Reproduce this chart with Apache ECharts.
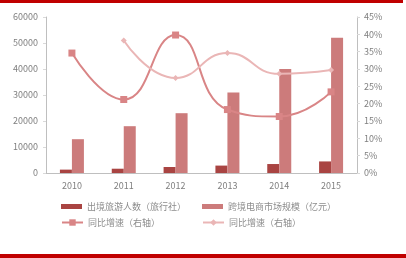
<!DOCTYPE html>
<html><head><meta charset="utf-8">
<script src="https://cdn.jsdelivr.net/npm/echarts@6/dist/echarts.min.js"></script>
<style>html,body{margin:0;padding:0;background:#fff}#c{width:406px;height:258px;position:relative}
.bar{position:absolute;left:0;background:#c00000}</style>
</head><body>
<div id="c"></div>
<div class="bar" style="top:0;width:403px;height:3px"></div>
<div class="bar" style="top:254px;width:406px;height:4px"></div>
<script>
const categories = ['2010','2011','2012','2013','2014','2015'];
const tourists = [1300, 1650, 2300, 2850, 3450, 4450];
const ecommerce = [13000, 18000, 23000, 31000, 40000, 52000];
const growthA = [34.6, 21.2, 39.8, 18.3, 16.3, 23.4];
const growthB = [null, 38.2, 27.4, 34.6, 28.6, 29.7];
const names = ['出境旅游人数（旅行社）','跨境电商市场规模（亿元）','同比增速（右轴）','同比增速（右轴） '];

const chart = echarts.init(document.getElementById('c'));
const font = '"Noto Sans CJK SC", sans-serif';
const lab = {color:'#7f7f7f', fontSize:9, fontFamily:font};
function leg(name, left, top, icon){
  return {data:[{name:name, icon:icon}], left:left, top:top, itemWidth:21, itemHeight: icon==='rect'?5:8,
    padding:0, textStyle:{color:'#8c8c8c', fontSize:9, fontFamily:font}, itemGap:0, formatter:n=>n.trim()};
}
chart.setOption({
  animation:false,
  legend:[leg(names[0],61,202,'rect'), leg(names[1],202,202,'rect'), leg(names[2],61,218,undefined), leg(names[3],202,218,undefined)],
  grid:{left:46, right:49, top:17, bottom:85},
  xAxis:{type:'category', data:categories, axisLine:{lineStyle:{color:'#bfbfbf'}}, axisTick:{show:false},
    axisLabel:Object.assign({margin:8}, lab)},
  yAxis:[
    {type:'value', min:0, max:60000, interval:10000, splitLine:{show:false},
     axisLine:{show:true, lineStyle:{color:'#bfbfbf'}}, axisTick:{show:true, length:3, lineStyle:{color:'#d9d9d9'}},
     axisLabel:Object.assign({margin:8, formatter:v=>String(v)}, lab)},
    {type:'value', min:0, max:45, interval:5, splitLine:{show:false},
     axisLine:{show:true, lineStyle:{color:'#bfbfbf'}}, axisTick:{show:true, length:3, lineStyle:{color:'#d9d9d9'}},
     axisLabel:Object.assign({margin:7, formatter:'{value}%'}, lab)}
  ],
  series:[
    {name:names[0], type:'bar', data:tourists, barWidth:12, barGap:'0%', itemStyle:{color:'#a94442'}},
    {name:names[1], type:'bar', data:ecommerce, barWidth:12, barGap:'0%', itemStyle:{color:'#cc7b7b'}},
    {name:names[2], type:'line', yAxisIndex:1, data:growthA, smooth:0.5, symbol:'rect', symbolSize:7,
     itemStyle:{color:'#d98586'}, lineStyle:{width:2, color:'#d98586'}},
    {name:names[3], type:'line', yAxisIndex:1, data:growthB, smooth:0.5, symbol:'diamond', symbolSize:6,
     itemStyle:{color:'#eab6b6'}, lineStyle:{width:2, color:'#eab6b6'}}
  ]
});
</script>
</body></html>
